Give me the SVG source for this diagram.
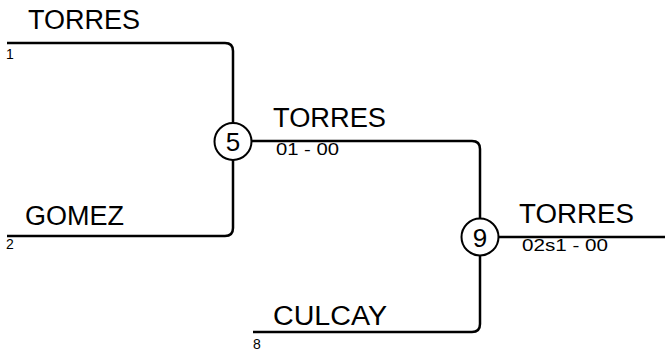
<svg xmlns="http://www.w3.org/2000/svg" width="665" height="351" viewBox="0 0 665 351">
<style>
.ln{fill:none;stroke:#000;stroke-width:2.5}
.nd{fill:#fff;stroke:#000;stroke-width:2}
.nm{font-family:"Liberation Sans",Arial,sans-serif;font-size:27px;fill:#000}
.sc{font-family:"Liberation Sans",Arial,sans-serif;font-size:17px;fill:#000}
.sd{font-family:"Liberation Sans",Arial,sans-serif;font-size:14px;fill:#000}
.cn{font-family:"Liberation Sans",Arial,sans-serif;font-size:26px;fill:#000;text-anchor:middle}
</style>
<rect width="665" height="351" fill="#fff"/>
<g id="connectors">
<path class="ln" d="M7,43 H225 Q233,43 233,51 V123"/>
<path class="ln" d="M7,236 H225 Q233,236 233,228 V160"/>
<path class="ln" d="M252,141 H472 Q480,141 480,149 V219"/>
<path class="ln" d="M253,332 H472 Q480,332 480,324 V255"/>
<path class="ln" d="M498,237 H665"/>
</g>
<g id="team-torres-1">
<text class="nm" x="28" y="29" textLength="112" lengthAdjust="spacingAndGlyphs">TORRES</text>
<text class="sd" x="6" y="59">1</text>
</g>
<g id="team-gomez-2">
<text class="nm" x="25" y="225">GOMEZ</text>
<text class="sd" x="6" y="249">2</text>
</g>
<g id="team-culcay-8">
<text class="nm" x="273" y="325" textLength="114" lengthAdjust="spacingAndGlyphs">CULCAY</text>
<text class="sd" x="253" y="349">8</text>
</g>
<g id="match-5">
<circle class="nd" cx="233" cy="141.5" r="18.5"/>
<text class="cn" x="233" y="151">5</text>
<text class="nm" x="273" y="127" textLength="113" lengthAdjust="spacingAndGlyphs">TORRES</text>
<text class="sc" x="276" y="155" textLength="63" lengthAdjust="spacingAndGlyphs">01 - 00</text>
</g>
<g id="match-9">
<circle class="nd" cx="480" cy="237" r="18.5"/>
<text class="cn" x="480" y="246.5">9</text>
<text class="nm" x="519" y="223" textLength="115" lengthAdjust="spacingAndGlyphs">TORRES</text>
<text class="sc" x="522" y="251" textLength="86" lengthAdjust="spacingAndGlyphs">02s1 - 00</text>
</g>
</svg>
